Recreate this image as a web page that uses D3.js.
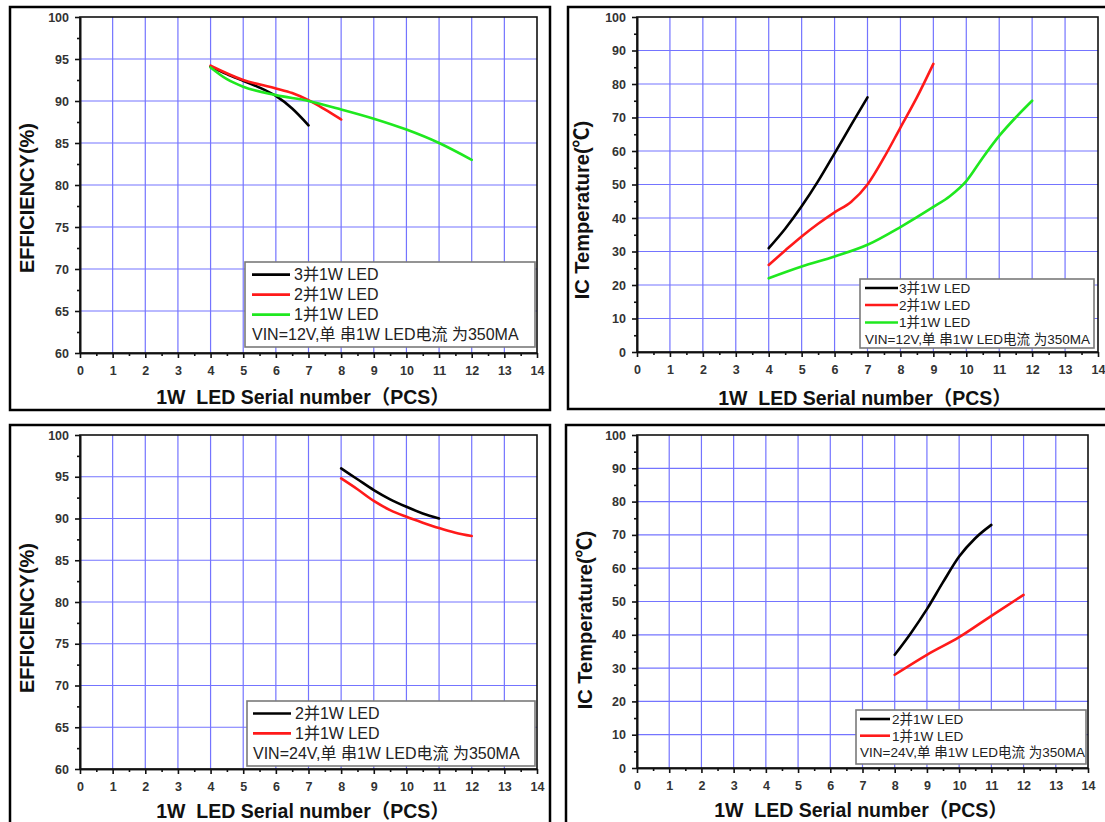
<!DOCTYPE html>
<html>
<head>
<meta charset="utf-8">
<script src="https://cdn.jsdelivr.net/npm/d3@7"></script>
<style>
  body { margin: 0; background: #fff; }
  svg { display: block; }
  .tick text { fill: #333; font-weight: bold; }
</style>
</head>
<body>
<svg width="1105" height="822"></svg>
<script>
'use strict';

// ---- data ----
const xTicks = [0, 1, 2, 3, 4, 5, 6, 7, 8, 9, 10, 11, 12, 13, 14];
const effTicks = [60, 65, 70, 75, 80, 85, 90, 95, 100];
const tempTicks = [0, 10, 20, 30, 40, 50, 60, 70, 80, 90, 100];

// VIN=12V efficiency (%)
const eff12_3p = [[4, 94.1], [4.5, 93.2], [5, 92.4], [5.5, 91.6], [6, 90.6], [6.5, 89.1], [7, 87.1]];
const eff12_2p = [[4, 94.2], [5, 92.5], [6, 91.5], [6.5, 90.95], [7, 90.1], [7.5, 89.0], [8, 87.8]];
const eff12_1p = [[4, 94.0], [4.5, 92.6], [5, 91.7], [6, 90.7], [7, 90.0], [8, 89.0], [9, 87.9], [10, 86.6], [11, 85.0], [12, 83.0]];

// VIN=12V IC temperature (C)
const temp12_3p = [[4, 31], [4.5, 36.8], [5, 43.5], [5.5, 51], [6, 59.3], [6.5, 67.7], [7, 76]];
const temp12_2p = [[4, 26], [4.5, 30.3], [5, 34.5], [5.5, 38.3], [6, 41.7], [6.5, 44.8], [7, 50], [7.5, 58], [8, 67], [8.5, 76], [9, 86]];
const temp12_1p = [[4, 22], [5, 25.5], [6, 28.5], [7, 32], [8, 37.3], [9, 43.3], [9.5, 46.5], [10, 51], [10.5, 58], [11, 64.5], [11.5, 70], [12, 75]];

// VIN=24V efficiency (%)
const eff24_2p = [[8, 96], [8.5, 94.7], [9, 93.4], [9.5, 92.3], [10, 91.4], [10.5, 90.6], [11, 90]];
const eff24_1p = [[8, 94.8], [8.5, 93.5], [9, 92.1], [9.5, 91], [10, 90.2], [10.5, 89.5], [11, 88.85], [11.5, 88.3], [12, 87.9]];

// VIN=24V IC temperature (C)
const temp24_2p = [[8, 34], [8.5, 40.5], [9, 47.7], [9.5, 55.8], [10, 63.5], [10.5, 69], [11, 73]];
const temp24_1p = [[8, 28], [9, 34], [10, 39.3], [11, 45.7], [12, 52]];

const names12 = ['3并1W LED', '2并1W LED', '1并1W LED'];
const names24 = ['2并1W LED', '1并1W LED'];
const note12 = 'VIN=12V,单 串1W LED电流 为350MA';
const note24 = 'VIN=24V,单 串1W LED电流 为350MA';

const colors = { black: '#000000', red: '#ff1a1a', green: '#1fe81f' };
const FONT = 'Arial, "Liberation Sans", "Noto Sans CJK SC", sans-serif';

const svg = d3.select('svg');

const render = (cfg) => {
  const g = svg.append('g');

  // outer frame of the panel
  g.append('rect')
    .attr('x', cfg.frame[0]).attr('y', cfg.frame[1])
    .attr('width', cfg.frame[2]).attr('height', cfg.frame[3])
    .attr('fill', 'none').attr('stroke', '#000').attr('stroke-width', 2.5);

  const xScale = d3.scaleLinear().domain([0, 14]).range([cfg.left, cfg.right]);
  const yScale = d3.scaleLinear().domain(cfg.yDomain).range([cfg.bottom, cfg.top]);

  // grid
  g.append('g').selectAll('line').data(xTicks.slice(1, -1))
    .enter().append('line')
      .attr('x1', d => xScale(d)).attr('x2', d => xScale(d))
      .attr('y1', cfg.top).attr('y2', cfg.bottom)
      .attr('stroke', '#7474ff').attr('stroke-width', 1.2);
  g.append('g').selectAll('line').data(cfg.yTicks.slice(1, -1))
    .enter().append('line')
      .attr('y1', d => yScale(d)).attr('y2', d => yScale(d))
      .attr('x1', cfg.left).attr('x2', cfg.right)
      .attr('stroke', '#7474ff').attr('stroke-width', 1.2);

  // plot box
  g.append('rect')
    .attr('x', cfg.left).attr('y', cfg.top)
    .attr('width', cfg.right - cfg.left).attr('height', cfg.bottom - cfg.top)
    .attr('fill', 'none').attr('stroke', '#111').attr('stroke-width', 1.6);

  // axes
  const xAxis = d3.axisBottom(xScale).tickValues(xTicks)
    .tickSize(5).tickPadding(8).tickSizeOuter(0).tickFormat(d3.format('d'));
  const xMinor = d3.axisBottom(xScale).tickValues(xTicks.slice(0, -1).map(d => d + 0.5))
    .tickSize(3).tickSizeOuter(0).tickFormat('');
  const yAxis = d3.axisLeft(yScale).tickValues(cfg.yTicks)
    .tickSize(5).tickPadding(6).tickSizeOuter(0).tickFormat(d3.format('d'));
  const yStep = cfg.yTicks[1] - cfg.yTicks[0];
  const yMinor = d3.axisLeft(yScale).tickValues(cfg.yTicks.slice(0, -1).map(d => d + yStep / 2))
    .tickSize(3).tickSizeOuter(0).tickFormat('');

  [xAxis, xMinor].forEach(ax => {
    g.append('g').attr('transform', `translate(0,${cfg.bottom})`).call(ax)
      .attr('font-size', 12.5).attr('font-family', FONT)
      .call(s => s.selectAll('line, path').attr('stroke', '#111').attr('stroke-width', 1.6));
  });
  [yAxis, yMinor].forEach(ax => {
    g.append('g').attr('transform', `translate(${cfg.left},0)`).call(ax)
      .attr('font-size', 12.5).attr('font-family', FONT)
      .call(s => s.selectAll('line, path').attr('stroke', '#111').attr('stroke-width', 1.6));
  });

  // axis titles
  g.append('text')
    .attr('transform', `translate(${cfg.yTitlePos[0]},${cfg.yTitlePos[1]}) rotate(-90)`)
    .attr('text-anchor', 'middle').attr('dy', '0.35em')
    .attr('font-family', FONT).attr('font-weight', 'bold').attr('font-size', 20)
    .attr('fill', '#111')
    .text(cfg.yTitle);

  g.append('text')
    .attr('x', cfg.xTitlePos[0]).attr('y', cfg.xTitlePos[1])
    .attr('text-anchor', 'middle').attr('dy', '0.35em')
    .style('white-space', 'pre')
    .attr('font-family', FONT).attr('font-weight', 'bold').attr('font-size', 19.5)
    .attr('fill', '#111')
    .text('1W  LED Serial number（PCS）');

  // curves
  const line = d3.line()
    .x(d => xScale(d[0]))
    .y(d => yScale(d[1]))
    .curve(d3.curveMonotoneX);

  cfg.series.forEach(s => {
    g.append('path')
      .datum(s.values)
      .attr('fill', 'none')
      .attr('stroke', s.color)
      .attr('stroke-width', 2.6)
      .attr('stroke-linecap', 'round')
      .attr('d', line);
  });

  // legend
  const L = cfg.legend;
  g.append('rect')
    .attr('x', L.box[0]).attr('y', L.box[1])
    .attr('width', L.box[2] - L.box[0]).attr('height', L.box[3] - L.box[1])
    .attr('fill', '#fff').attr('stroke', '#7a7a7a').attr('stroke-width', 1.6);

  cfg.series.forEach((s, i) => {
    const yy = L.rows[i];
    g.append('line')
      .attr('x1', L.lineX[0]).attr('x2', L.lineX[1])
      .attr('y1', yy).attr('y2', yy)
      .attr('stroke', s.color).attr('stroke-width', 2.6);
    g.append('text')
      .attr('x', L.textX).attr('y', yy).attr('dy', '0.36em')
      .attr('font-family', FONT).attr('font-size', L.fontSize)
      .attr('fill', '#222')
      .text(s.name);
  });
  g.append('text')
    .attr('x', L.lineX[0]).attr('y', L.rows[cfg.series.length]).attr('dy', '0.36em')
    .attr('font-family', FONT).attr('font-size', L.fontSize)
    .attr('fill', '#222')
    .style('white-space', 'pre')
    .text(cfg.note);
};

render({
  frame: [10, 7, 540, 403],
  left: 80, right: 537, top: 17, bottom: 353,
  yDomain: [60, 100], yTicks: effTicks,
  yTitle: 'EFFICIENCY(%)', yTitlePos: [27, 198], xTitlePos: [303, 397],
  series: [
    { name: names12[0], values: eff12_3p, color: colors.black },
    { name: names12[1], values: eff12_2p, color: colors.red },
    { name: names12[2], values: eff12_1p, color: colors.green }
  ],
  note: note12,
  legend: { box: [245, 262, 535, 347], rows: [274.6, 294.6, 314.6, 334.6], lineX: [252, 290], textX: 294, fontSize: 16 }
});

render({
  frame: [568, 7, 560, 402],
  left: 637, right: 1098, top: 17, bottom: 352,
  yDomain: [0, 100], yTicks: tempTicks,
  yTitle: 'IC Temperature(℃)', yTitlePos: [582, 210], xTitlePos: [865, 398],
  series: [
    { name: names12[0], values: temp12_3p, color: colors.black },
    { name: names12[1], values: temp12_2p, color: colors.red },
    { name: names12[2], values: temp12_1p, color: colors.green }
  ],
  note: note12,
  legend: { box: [860, 279, 1094, 348], rows: [288, 305, 322.5, 339.5], lineX: [865, 898], textX: 899, fontSize: 13.5 }
});

render({
  frame: [10, 425, 540, 420],
  left: 80, right: 537, top: 435, bottom: 769,
  yDomain: [60, 100], yTicks: effTicks,
  yTitle: 'EFFICIENCY(%)', yTitlePos: [27, 618], xTitlePos: [303, 811],
  series: [
    { name: names24[0], values: eff24_2p, color: colors.black },
    { name: names24[1], values: eff24_1p, color: colors.red }
  ],
  note: note24,
  legend: { box: [247, 701, 535, 766], rows: [713.5, 733.4, 753.4], lineX: [253, 291], textX: 295, fontSize: 16 }
});

render({
  frame: [566, 425, 560, 420],
  left: 637, right: 1088, top: 435, bottom: 768,
  yDomain: [0, 100], yTicks: tempTicks,
  yTitle: 'IC Temperature(℃)', yTitlePos: [585, 620], xTitlePos: [861, 810],
  series: [
    { name: names24[0], values: temp24_2p, color: colors.black },
    { name: names24[1], values: temp24_1p, color: colors.red }
  ],
  note: note24,
  legend: { box: [856, 710, 1086, 764], rows: [719, 735.7, 752.3], lineX: [860, 890], textX: 892, fontSize: 13.5 }
});
</script>
</body>
</html>
